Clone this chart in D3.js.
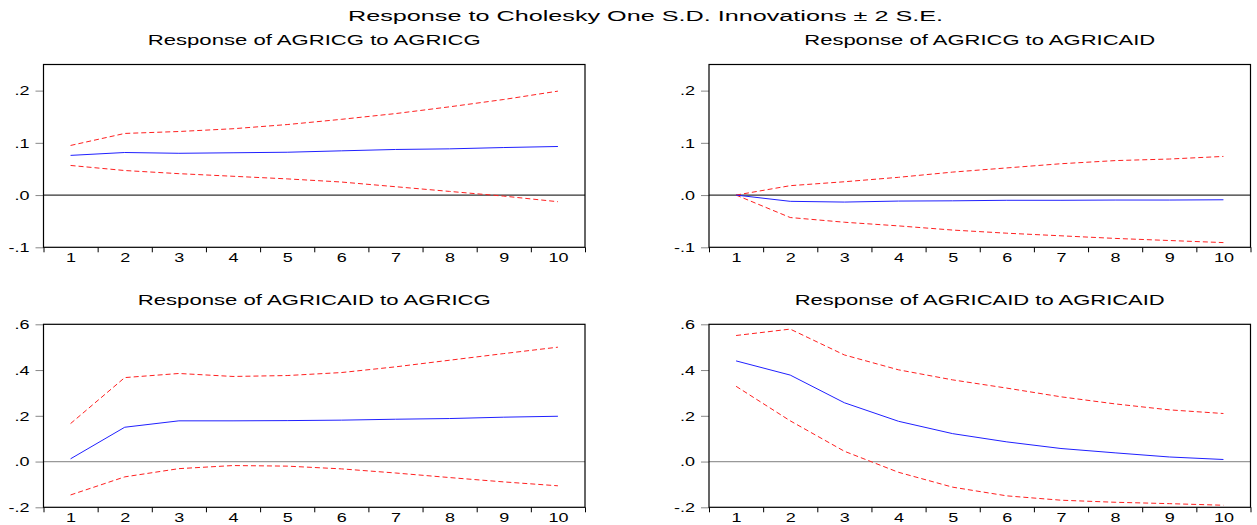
<!DOCTYPE html>
<html>
<head>
<meta charset="utf-8">
<script src="https://cdn.jsdelivr.net/npm/d3@7"></script>
<style>
  body { margin: 0; background: #fff; }
  text { font-family: "Liberation Sans", Arial, sans-serif; fill: #000; }
</style>
</head>
<body>
<div id="chart"></div>
<script>
var svgWidth = 1257;
var svgHeight = 525;

// periods on the x axis
var periods = [1, 2, 3, 4, 5, 6, 7, 8, 9, 10];

// y tick values
var yTicksTop = [-0.1, 0.0, 0.1, 0.2];
var yTicksBottom = [-0.2, 0.0, 0.2, 0.4, 0.6];

// Response of AGRICG to AGRICG
var cgCg     = [0.076, 0.0815, 0.080, 0.081, 0.082, 0.0847, 0.0873, 0.0885, 0.091, 0.093];
var cgCgUp   = [0.095, 0.118, 0.1217, 0.127, 0.135, 0.145, 0.156, 0.169, 0.183, 0.199];
var cgCgLo   = [0.0567, 0.047, 0.041, 0.036, 0.031, 0.025, 0.016, 0.007, -0.002, -0.0127];

// Response of AGRICG to AGRICAID
var cgAid    = [0.0, -0.012, -0.0134, -0.0115, -0.011, -0.010, -0.010, -0.0095, -0.0095, -0.009];
var cgAidUp  = [0.0, 0.018, 0.0255, 0.034, 0.044, 0.052, 0.060, 0.066, 0.069, 0.074];
var cgAidLo  = [0.0, -0.043, -0.052, -0.059, -0.067, -0.073, -0.078, -0.083, -0.087, -0.091];

// Response of AGRICAID to AGRICG
var aidCg    = [0.012, 0.150, 0.178, 0.178, 0.179, 0.181, 0.185, 0.188, 0.194, 0.198];
var aidCgUp  = [0.166, 0.367, 0.385, 0.372, 0.376, 0.389, 0.414, 0.443, 0.472, 0.500];
var aidCgLo  = [-0.146, -0.067, -0.031, -0.0175, -0.020, -0.032, -0.050, -0.070, -0.089, -0.106];

// Response of AGRICAID to AGRICAID
var aidAid   = [0.440, 0.378, 0.257, 0.176, 0.122, 0.086, 0.057, 0.038, 0.020, 0.009];
var aidAidUp = [0.551, 0.579, 0.466, 0.401, 0.357, 0.321, 0.283, 0.252, 0.226, 0.210];
var aidAidLo = [0.329, 0.178, 0.045, -0.047, -0.112, -0.150, -0.169, -0.178, -0.184, -0.191];

var panels = [
  {title: "Response of AGRICG to AGRICG", mid: cgCg, up: cgCgUp, lo: cgCgLo,
   ticks: yTicksTop, domain: [-0.1, 0.25], x0: 43.5, x1: 585, y0: 64.5, y1: 247.3,
   titleW: 333, titleY: 44.5, zero: "#333"},
  {title: "Response of AGRICG to AGRICAID", mid: cgAid, up: cgAidUp, lo: cgAidLo,
   ticks: yTicksTop, domain: [-0.1, 0.25], x0: 709, x1: 1250.5, y0: 64.5, y1: 247.3,
   titleW: 351, titleY: 44.5, zero: "#333"},
  {title: "Response of AGRICAID to AGRICG", mid: aidCg, up: aidCgUp, lo: aidCgLo,
   ticks: yTicksBottom, domain: [-0.2, 0.6], x0: 43.5, x1: 585, y0: 324.3, y1: 507.3,
   titleW: 353, titleY: 305, zero: "#999"},
  {title: "Response of AGRICAID to AGRICAID", mid: aidAid, up: aidAidUp, lo: aidAidLo,
   ticks: yTicksBottom, domain: [-0.2, 0.6], x0: 709, x1: 1250.5, y0: 324.3, y1: 507.3,
   titleW: 370, titleY: 305, zero: "#999"}
];

var SVG = d3.select("#chart")
  .append("svg")
  .attr("width", svgWidth)
  .attr("height", svgHeight);

// main title
SVG.append("text")
  .attr("x", 645.5)
  .attr("y", 21)
  .attr("text-anchor", "middle")
  .attr("font-size", "15.5px")
  .attr("textLength", 595)
  .attr("lengthAdjust", "spacingAndGlyphs")
  .text("Response to Cholesky One S.D. Innovations \u00b1 2 S.E.");

// y labels like ".2", "-.1", ".0"
function fmtY(v) {
  var s = Math.abs(v).toFixed(1).replace(/^0/, "");
  return (v < 0 ? "-" : "") + s;
}

var sx = 1.5; // tick labels are drawn wide

panels.forEach(function(p) {
  var g = SVG.append("g");

  var x = d3.scaleLinear().domain([0.5, 10.5]).range([p.x0, p.x1]);
  var y = d3.scaleLinear().domain(p.domain).range([p.y1, p.y0]);

  // panel title
  g.append("text")
    .attr("x", (p.x0 + p.x1) / 2)
    .attr("y", p.titleY)
    .attr("text-anchor", "middle")
    .attr("font-size", "15px")
    .attr("textLength", p.titleW)
    .attr("lengthAdjust", "spacingAndGlyphs")
    .text(p.title);

  // y axis ticks
  var yAxis = g.append("g")
    .attr("transform", `translate(${p.x0}, 0)`)
    .call(d3.axisLeft(y).tickValues(p.ticks).tickSize(8).tickFormat(fmtY));
  yAxis.select(".domain").remove();
  yAxis.selectAll("line").attr("stroke", "#888");
  yAxis.selectAll("text")
    .attr("x", 0).attr("dy", "0.35em")
    .attr("font-size", "12px")
    .attr("font-family", null)
    .attr("transform", `translate(-14, 0) scale(${sx}, 1)`);

  // x axis: boundary ticks and centred labels
  var xTicks = g.append("g")
    .attr("transform", `translate(0, ${p.y1})`)
    .call(d3.axisBottom(x).tickValues(d3.range(0.5, 11, 1)).tickSize(5).tickFormat(""));
  xTicks.select(".domain").remove();
  xTicks.selectAll("line").attr("stroke", "#000");

  var xLabels = g.append("g")
    .attr("transform", `translate(0, ${p.y1})`)
    .call(d3.axisBottom(x).tickValues(periods).tickSize(0).tickPadding(6.5));
  xLabels.select(".domain").remove();
  xLabels.selectAll("text")
    .attr("font-size", "12px")
    .attr("font-family", null)
    .attr("transform", `scale(${sx}, 1)`)
    .attr("x", 0);

  // zero line
  g.append("line")
    .attr("x1", p.x0).attr("x2", p.x1)
    .attr("y1", y(0)).attr("y2", y(0))
    .attr("stroke", p.zero)
    .attr("stroke-width", 1.2);

  var line = d3.line()
    .x(function(d, i) { return x(periods[i]); })
    .y(function(d) { return y(d); });

  g.append("path").datum(p.up)
    .attr("d", line).attr("fill", "none")
    .attr("stroke", "#ff2020").attr("stroke-width", 1)
    .attr("stroke-dasharray", "5,3");
  g.append("path").datum(p.lo)
    .attr("d", line).attr("fill", "none")
    .attr("stroke", "#ff2020").attr("stroke-width", 1)
    .attr("stroke-dasharray", "5,3");
  g.append("path").datum(p.mid)
    .attr("d", line).attr("fill", "none")
    .attr("stroke", "#2020ff").attr("stroke-width", 1);

  // frame
  g.append("rect")
    .attr("x", p.x0).attr("y", p.y0)
    .attr("width", p.x1 - p.x0).attr("height", p.y1 - p.y0)
    .attr("fill", "none").attr("stroke", "#000").attr("stroke-width", 1.2);
});
</script>
</body>
</html>
